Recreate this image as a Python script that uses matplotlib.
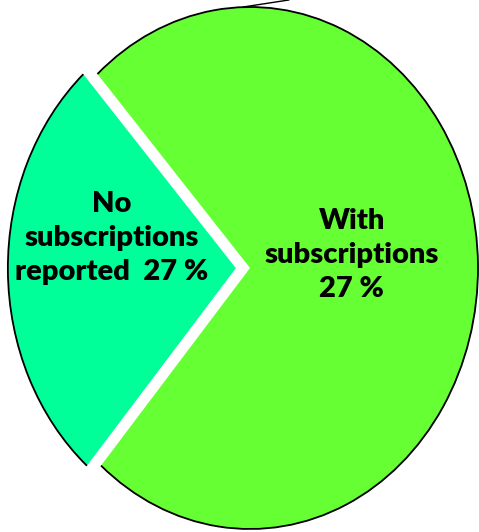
import matplotlib
matplotlib.use("Agg")
import matplotlib.pyplot as plt
from matplotlib.patches import Arc

# Share of respondents by subscription status
categories = ["No subscriptions reported", "With subscriptions"]
shares = [27, 73]
colors = ["#00FF99", "#66FF33"]
explode = [0.062, 0.0]

fig = plt.figure(figsize=(4.79, 5.32), dpi=100)
ax = fig.add_axes([0, 0, 1, 1])

wedges, _ = ax.pie(shares, colors=colors, explode=explode, startangle=132,
                   counterclock=True, wedgeprops=dict(linewidth=0))

# Outline only the outer rim of each wedge
for w in wedges:
    arc = Arc(w.center, 2 * w.r, 2 * w.r, theta1=w.theta1, theta2=w.theta2,
              color="black", lw=1.3, zorder=3)
    ax.add_patch(arc)

ax.set_aspect("auto")
ax.set_xlim(-1.0965, 1.0044)
ax.set_ylim(-1.0115, 1.0268)
ax.axis("off")

# Leader line running off the top edge
ax.plot([-0.03, 0.17], [1.0, 1.0268], color="black", lw=1.0, clip_on=True)

text_kw = dict(ha="center", va="center", fontsize=21, fontweight="heavy",
               family=["Lato", "DejaVu Sans"], linespacing=1.4, color="black")
ax.text(-0.605, 0.115, f"No\nsubscriptions\nreported  {shares[0]} %", **text_kw)
ax.text(0.447, 0.05, "With\nsubscriptions\n27 %", **text_kw)

fig.savefig("out.png", dpi=100)
